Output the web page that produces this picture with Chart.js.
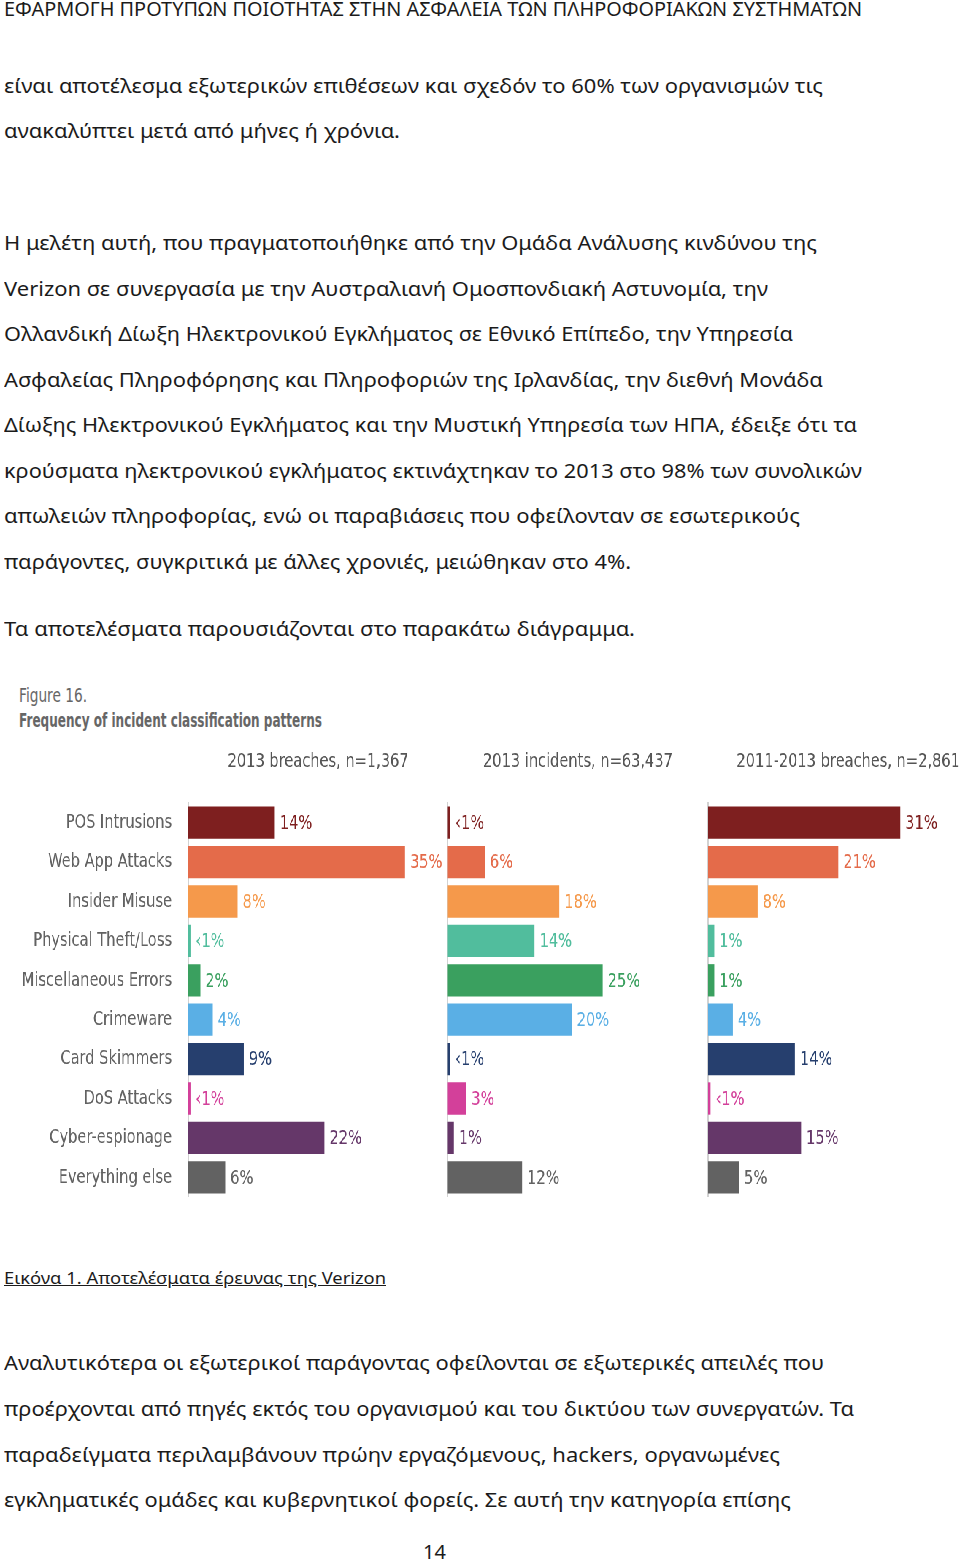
<!DOCTYPE html>
<html>
<head>
<meta charset="utf-8">
<script src="https://cdn.jsdelivr.net/npm/chart.js@4.4.1/dist/chart.umd.min.js"></script>
<style>
    html, body { margin: 0; padding: 0; background: #fff; }
    body { position: relative; width: 960px; height: 1561px; overflow: hidden; font-family: "Noto Sans", sans-serif; color: #1b1b1b; }
    .ln { position: absolute; left: 4px; white-space: nowrap; font-size: 20px; line-height: 28px; transform-origin: 0 50%; }
    .fig { position: absolute; left: 19px; white-space: nowrap; font-family: "DejaVu Sans", sans-serif; color: #666; font-size: 19px; line-height: 22px; transform-origin: 0 50%; }
    #chartBox { position: absolute; left: 0; top: 750px; width: 1320px; height: 447px; transform-origin: 0 0; }
    #chartBox canvas { position: absolute; top: 0; }
</style>
</head>
<body>

<div class="ln" style="top:-5px; font-size:19px;" data-w="858">ΕΦΑΡΜΟΓΗ ΠΡΟΤΥΠΩΝ ΠΟΙΟΤΗΤΑΣ ΣΤΗΝ ΑΣΦΑΛΕΙΑ ΤΩΝ ΠΛΗΡΟΦΟΡΙΑΚΩΝ ΣΥΣΤΗΜΑΤΩΝ</div>

<div class="ln" style="top:72px;" data-w="819">είναι αποτέλεσμα εξωτερικών επιθέσεων και σχεδόν το 60% των οργανισμών τις</div>
<div class="ln" style="top:117px;" data-w="396">ανακαλύπτει μετά από μήνες ή χρόνια.</div>

<div class="ln" style="top:229px;" data-w="813">Η μελέτη αυτή, που πραγματοποιήθηκε από την Ομάδα Ανάλυσης κινδύνου της</div>
<div class="ln" style="top:275px;" data-w="764">Verizon σε συνεργασία με την Αυστραλιανή Ομοσπονδιακή Αστυνομία, την</div>
<div class="ln" style="top:320px;" data-w="789">Ολλανδική Δίωξη Ηλεκτρονικού Εγκλήματος σε Εθνικό Επίπεδο, την Υπηρεσία</div>
<div class="ln" style="top:366px;" data-w="819">Ασφαλείας Πληροφόρησης και Πληροφοριών της Ιρλανδίας, την διεθνή Μονάδα</div>
<div class="ln" style="top:411px;" data-w="853">Δίωξης Ηλεκτρονικού Εγκλήματος και την Μυστική Υπηρεσία των ΗΠΑ, έδειξε ότι τα</div>
<div class="ln" style="top:457px;" data-w="858">κρούσματα ηλεκτρονικού εγκλήματος εκτινάχτηκαν το 2013 στο 98% των συνολικών</div>
<div class="ln" style="top:502px;" data-w="796">απωλειών πληροφορίας, ενώ οι παραβιάσεις που οφείλονταν σε εσωτερικούς</div>
<div class="ln" style="top:548px;" data-w="627">παράγοντες, συγκριτικά με άλλες χρονιές, μειώθηκαν στο 4%.</div>

<div class="ln" style="top:615px;" data-w="631">Τα αποτελέσματα παρουσιάζονται στο παρακάτω διάγραμμα.</div>

<div class="fig" style="top:684px;" data-w="68">Figure 16.</div>
<div class="fig" style="top:709px; font-weight:bold;" data-w="303">Frequency of incident classification patterns</div>

<div id="chartBox">
    <canvas id="panel1"></canvas>
    <canvas id="panel2"></canvas>
    <canvas id="panel3"></canvas>
</div>

<div class="ln" style="top:1264px; font-size:17px; text-decoration:underline;" data-w="382">Εικόνα 1. Αποτελέσματα έρευνας της Verizon</div>

<div class="ln" style="top:1349px;" data-w="820">Αναλυτικότερα οι εξωτερικοί παράγοντας οφείλονται σε εξωτερικές απειλές που</div>
<div class="ln" style="top:1395px;" data-w="850">προέρχονται από πηγές εκτός του οργανισμού και του δικτύου των συνεργατών. Τα</div>
<div class="ln" style="top:1441px;" data-w="776">παραδείγματα περιλαμβάνουν πρώην εργαζόμενους, hackers, οργανωμένες</div>
<div class="ln" style="top:1486px;" data-w="787">εγκληματικές ομάδες και κυβερνητικοί φορείς. Σε αυτή την κατηγορία επίσης</div>

<div class="ln" style="top:1538px; left:423px;">14</div>

<script>
// Chart data
const categories = [
    'POS Intrusions', 'Web App Attacks', 'Insider Misuse', 'Physical Theft/Loss',
    'Miscellaneous Errors', 'Crimeware', 'Card Skimmers', 'DoS Attacks',
    'Cyber-espionage', 'Everything else'
];
// values below 1 stand for the "<1%" bars
const breaches2013 = [14, 35, 8, 0.4, 2, 4, 9, 0.4, 22, 6];
const incidents2013 = [0.4, 6, 18, 14, 25, 20, 0.4, 3, 1, 12];
const breaches2011to2013 = [31, 21, 8, 1, 1, 4, 14, 0.4, 15, 5];
const panelTitles = ['2013 breaches, n=1,367', '2013 incidents, n=63,437', '2011-2013 breaches, n=2,861'];

const barColors = [
    '#7e1f1f', '#e46b4a', '#f5994b', '#51bd9d', '#3aa05f',
    '#5aafe5', '#263f6e', '#d3409a', '#653769', '#626262'
];

// the whole figure is squeezed sideways so the text looks like a condensed face
const SQUEEZE = 0.73;
const FONT = '"DejaVu Sans", sans-serif';
const PX_PER_PCT = 6.2 / SQUEEZE;

document.getElementById('chartBox').style.transform = 'scaleX(' + SQUEEZE + ')';

// stretch text lines to the widths they have on the page
document.querySelectorAll('[data-w]').forEach(el => {
    const w = el.getBoundingClientRect().width;
    el.style.transform = 'scaleX(' + (el.dataset.w / w) + ')';
});

function pctLabel(v) {
    return v < 1 ? '\u20391%' : v + '%';
}

// value labels at the end of each bar
const valueLabels = {
    id: 'valueLabels',
    afterDatasetsDraw(chart) {
        const ctx = chart.ctx;
        const meta = chart.getDatasetMeta(0);
        const values = chart.data.datasets[0].data;
        ctx.save();
        ctx.font = '20px ' + FONT;
        ctx.textBaseline = 'middle';
        meta.data.forEach((bar, i) => {
            ctx.fillStyle = barColors[i];
            ctx.fillText(pctLabel(values[i]), bar.x + 5 / SQUEEZE, bar.y + 1);
        });
        ctx.restore();
    }
};

// left, width and axis width are page pixels
function createPanel(id, values, title, left, width, axisWidth, showLabels, titleAlign) {
    const canvas = document.getElementById(id);
    canvas.width = Math.round(width / SQUEEZE);
    canvas.height = 447;
    canvas.style.left = (left / SQUEEZE) + 'px';
    const axisPx = axisWidth / SQUEEZE;
    const areaWidth = canvas.width - axisPx;

    return new Chart(canvas, {
        type: 'bar',
        data: {
            labels: categories,
            datasets: [{
                data: values,
                backgroundColor: barColors,
                barPercentage: 0.82,
                categoryPercentage: 1
            }]
        },
        options: {
            indexAxis: 'y',
            responsive: false,
            animation: false,
            layout: { padding: 0 },
            plugins: {
                legend: { display: false },
                tooltip: { enabled: false },
                title: {
                    display: true,
                    text: title,
                    fullSize: false,
                    align: titleAlign,
                    color: '#555',
                    font: { family: FONT, size: 20, weight: 'normal' },
                    padding: { top: 0, bottom: 29 }
                }
            },
            scales: {
                x: { display: false, min: 0, max: areaWidth / PX_PER_PCT },
                y: {
                    afterFit: scale => {
                        scale.width = axisPx;
                        scale.paddingTop = 0;
                        scale.paddingBottom = 0;
                    },
                    grid: { display: false, drawTicks: false },
                    border: { display: true, color: '#d2d2d2', width: 2 },
                    ticks: {
                        display: showLabels,
                        color: '#626262',
                        padding: 16 / SQUEEZE,
                        font: { family: FONT, size: 20 }
                    }
                }
            }
        },
        plugins: [valueLabels]
    });
}

createPanel('panel1', breaches2013, panelTitles[0], 0, 448, 188, true, 'center');
createPanel('panel2', incidents2013, panelTitles[1], 440, 268, 7.5, false, 'center');
createPanel('panel3', breaches2011to2013, panelTitles[2], 700, 260, 8, false, 'end');
</script>
</body>
</html>
